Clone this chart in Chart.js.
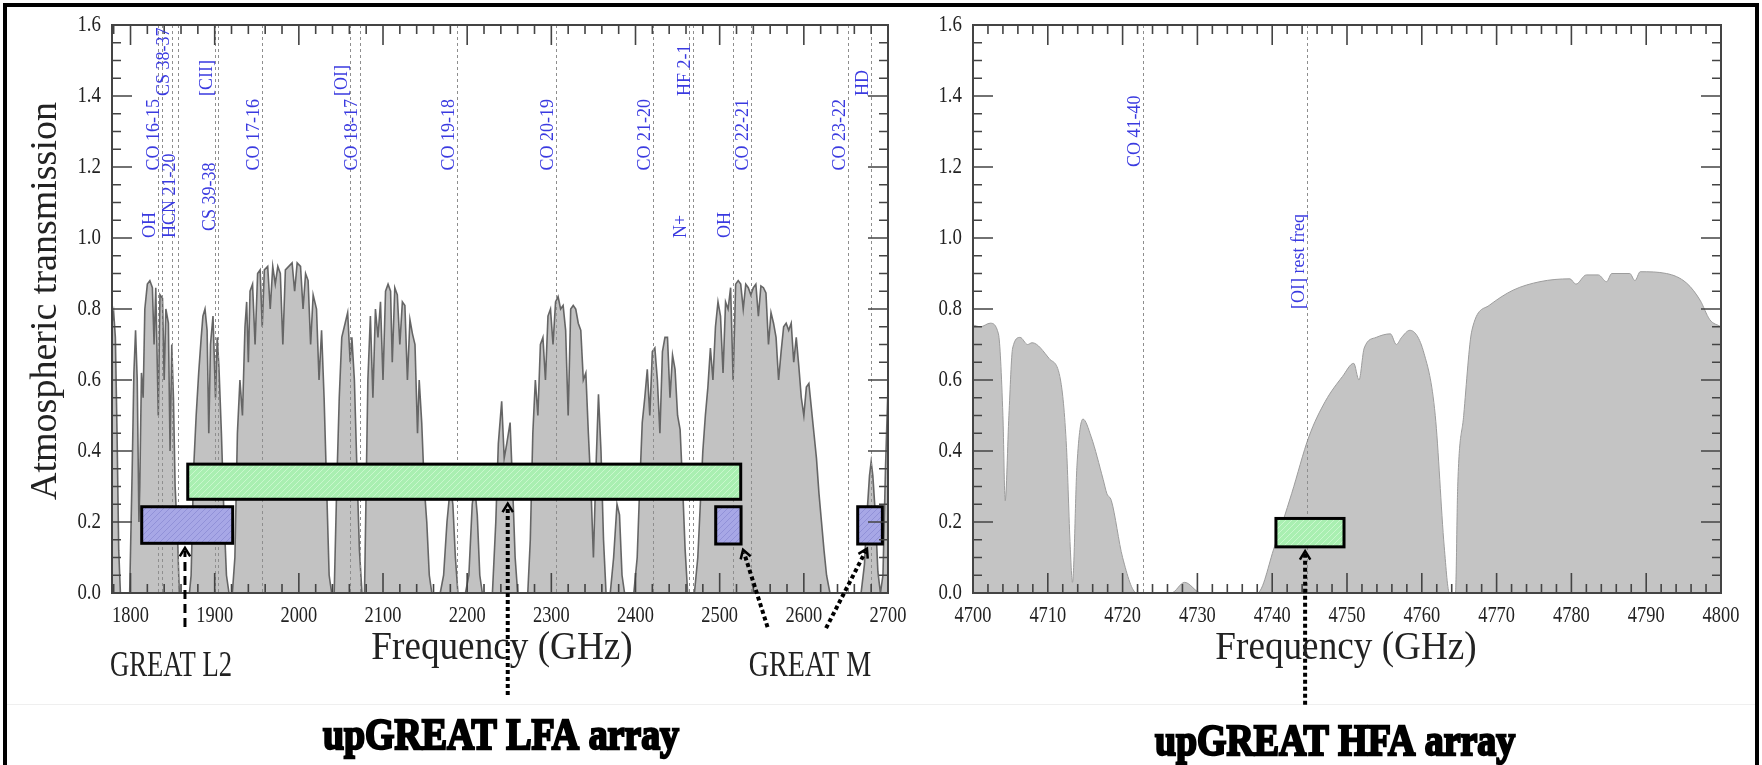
<!DOCTYPE html>
<html>
<head>
<meta charset="utf-8">
<script src="https://cdn.jsdelivr.net/npm/chart.js@4/dist/chart.umd.min.js"></script>
<style>
  html, body { margin: 0; padding: 0; background: #fff; }
  #wrap { position: relative; width: 1762px; height: 765px; overflow: hidden; background: #fff; }
  #frame { position: absolute; left: 3px; top: 3px; width: 1756px; height: 820px; border: 4px solid #000; box-sizing: border-box; }
  #sep { position: absolute; left: 7px; top: 704px; width: 1748px; height: 1px; background: #efefef; }
  canvas { position: absolute; top: 0; }
  #left { left: 0; }
  #right { left: 930px; }
</style>
</head>
<body>
<div id="wrap">
  <div id="sep"></div>
  <canvas id="left" width="930" height="765"></canvas>
  <canvas id="right" width="832" height="765"></canvas>
  <div id="frame"></div>
</div>
<script>
// ---- data ----
// left panel: atmospheric transmission 1.78 - 2.7 THz
const freqL = [
  1778, 1780, 1782, 1784, 1786, 1788, 1799, 1802, 1804, 1806, 1808, 1810, 1811, 1813, 1815, 1817, 1820, 1823,
  1826, 1828, 1830, 1833, 1835, 1838, 1840, 1842, 1845, 1847, 1849, 1851, 1853, 1856, 1858, 1870, 1872, 1875,
  1878, 1881, 1884, 1886, 1888.5, 1891, 1893, 1895, 1898, 1901, 1903, 1905, 1908, 1911, 1914, 1917, 1921, 1924,
  1927, 1930, 1933, 1936, 1938, 1940, 1942, 1945, 1948, 1951, 1954, 1956.5, 1959, 1963, 1966, 1969, 1972, 1975,
  1978, 1981, 1984, 1988, 1992, 1995, 1998, 2002, 2005, 2008, 2011, 2014, 2017, 2021, 2024, 2027, 2030, 2033,
  2036, 2039, 2042, 2045, 2048, 2051, 2055, 2058, 2061, 2063, 2066, 2069, 2072, 2075, 2078, 2080, 2082, 2085,
  2088, 2091, 2094, 2097, 2100, 2103, 2106, 2109, 2111, 2114, 2117, 2120, 2123, 2126, 2129, 2132, 2135, 2138,
  2141, 2143, 2146, 2149, 2152, 2155, 2158, 2168, 2172, 2176, 2180, 2183, 2186, 2189, 2198, 2202, 2206, 2209,
  2212, 2215, 2218, 2230, 2234, 2237, 2241, 2244, 2247, 2251, 2254, 2257, 2260, 2272, 2275, 2278, 2281, 2284,
  2287, 2290, 2293, 2296, 2299, 2302, 2305, 2308, 2311, 2314, 2317, 2320, 2323, 2326, 2329, 2332, 2335, 2338,
  2341, 2344, 2347, 2350, 2353, 2356, 2359, 2362, 2365, 2370, 2374, 2378, 2381, 2384, 2387, 2398, 2402, 2405,
  2408, 2411, 2414, 2417, 2420, 2423, 2426, 2429, 2432, 2435, 2438, 2441, 2444, 2447, 2450, 2453, 2456, 2459,
  2462, 2470, 2474, 2477, 2480, 2483, 2486, 2489, 2492, 2495, 2498, 2501, 2504, 2507, 2510, 2513, 2516, 2519,
  2522, 2525, 2528, 2531, 2534, 2537, 2540, 2543, 2546, 2549, 2552, 2555, 2558, 2561, 2564, 2567, 2570, 2573,
  2576, 2579, 2582, 2585, 2588, 2591, 2594, 2597, 2600, 2603, 2606, 2609, 2612, 2615, 2618, 2621, 2624, 2627,
  2631, 2668, 2672, 2675, 2678, 2680, 2682, 2685, 2688, 2691, 2694, 2697, 2700
];
const transL = [
  0.76, 0.79, 0.72, 0.45, 0.12, 0, 0, 0.35, 0.62, 0.74, 0.6, 0.2, 0.3, 0.62, 0.55, 0.8, 0.87, 0.88,
  0.86, 0.7, 0.86, 0.5, 0.84, 0.83, 0.6, 0.8, 0.76, 0.4, 0.7, 0.55, 0.3, 0.15, 0, 0, 0.05, 0.35,
  0.5, 0.62, 0.72, 0.78, 0.8, 0.74, 0.45, 0.7, 0.78, 0.55, 0.72, 0.64, 0.45, 0.22, 0.05, 0, 0, 0.1,
  0.45, 0.6, 0.5, 0.75, 0.82, 0.65, 0.85, 0.87, 0.7, 0.9, 0.91, 0.75, 0.91, 0.92, 0.8, 0.92, 0.87, 0.92,
  0.9, 0.7, 0.91, 0.92, 0.93, 0.85, 0.93, 0.92, 0.8, 0.9, 0.88, 0.7, 0.84, 0.8, 0.6, 0.74, 0.55, 0.3,
  0.05, 0, 0, 0.3, 0.55, 0.72, 0.76, 0.79, 0.65, 0.72, 0.6, 0.35, 0.12, 0, 0, 0.3, 0.6, 0.78,
  0.55, 0.8, 0.72, 0.82, 0.6, 0.85, 0.87, 0.85, 0.65, 0.86, 0.84, 0.7, 0.82, 0.81, 0.6, 0.77, 0.73, 0.7,
  0.45, 0.6, 0.48, 0.3, 0.2, 0.05, 0, 0, 0.05, 0.2, 0.3, 0.25, 0.1, 0, 0, 0.05, 0.25, 0.3,
  0.22, 0.05, 0, 0, 0.2, 0.42, 0.54, 0.38, 0.42, 0.48, 0.3, 0.1, 0, 0, 0.15, 0.45, 0.6, 0.5,
  0.7, 0.72, 0.6, 0.78, 0.8, 0.7, 0.82, 0.835, 0.8, 0.81, 0.74, 0.5, 0.8, 0.81, 0.8, 0.76, 0.74, 0.6,
  0.62, 0.45, 0.3, 0.1, 0.35, 0.56, 0.4, 0.15, 0, 0, 0.1, 0.25, 0.22, 0.05, 0, 0, 0.1, 0.3,
  0.48, 0.55, 0.63, 0.5, 0.68, 0.69, 0.6, 0.45, 0.68, 0.72, 0.72, 0.55, 0.67, 0.63, 0.5, 0.46, 0.3, 0.12,
  0, 0, 0.1, 0.25, 0.4, 0.5, 0.58, 0.69, 0.6, 0.75, 0.82, 0.78, 0.62, 0.82, 0.8, 0.86, 0.6, 0.87,
  0.88, 0.87, 0.8, 0.87, 0.86, 0.84, 0.86, 0.87, 0.78, 0.865, 0.86, 0.845, 0.7, 0.79, 0.76, 0.72, 0.6, 0.68,
  0.75, 0.76, 0.74, 0.76, 0.65, 0.72, 0.64, 0.55, 0.5, 0.58, 0.59, 0.52, 0.45, 0.38, 0.28, 0.2, 0.12, 0.05,
  0, 0, 0.08, 0.22, 0.33, 0.37, 0.33, 0.22, 0.06, 0, 0.05, 0.35, 0.58
];

// right panel: 4.70 - 4.80 THz
const freqR = [
  4700, 4701, 4702.3, 4703.4, 4704, 4704.3, 4704.8, 4705.3, 4706.3, 4707.3, 4707.9, 4710.2, 4711.7, 4712.5,
  4713, 4713.3, 4713.9, 4714.7, 4715.8, 4717.4, 4717.9, 4718.5, 4720, 4721.9, 4726.5, 4728.3, 4730.5, 4738,
  4740.3, 4742.6, 4744.9, 4747.1, 4749.4, 4750.9, 4751.6, 4752.3, 4753.9, 4755.8, 4756.6, 4757.3, 4758.4,
  4760.3, 4761.8, 4763, 4763.7, 4764.5, 4764.8, 4765.6, 4766.7, 4769, 4772.2, 4775.8, 4779.8, 4780.6, 4782,
  4783.6, 4784.7, 4785.4, 4787.8, 4788.5, 4789.2, 4792.7, 4795.4, 4797.2, 4798.5, 4800
];
const transR = [
  0.755, 0.75, 0.76, 0.73, 0.5, 0.26, 0.5, 0.69, 0.72, 0.70, 0.705, 0.66, 0.6, 0.41,
  0.13, 0.03, 0.36, 0.49, 0.44, 0.32, 0.28, 0.26, 0.1, 0, 0, 0.03, 0, 0,
  0.13, 0.28, 0.44, 0.54, 0.61, 0.647, 0.6, 0.69, 0.72, 0.73, 0.7, 0.72, 0.74,
  0.675, 0.5, 0.13, 0, 0, 0.3, 0.5, 0.74, 0.81, 0.853, 0.877, 0.885, 0.87, 0.896,
  0.896, 0.877, 0.9, 0.9, 0.88, 0.905, 0.9, 0.873, 0.825, 0.77, 0.75
];

const xTicksL = [1800, 1900, 2000, 2100, 2200, 2300, 2400, 2500, 2600, 2700];
const xTicksR = [4700, 4710, 4720, 4730, 4740, 4750, 4760, 4770, 4780, 4790, 4800];
const yTicks = [0, 0.2, 0.4, 0.6, 0.8, 1.0, 1.2, 1.4, 1.6];

// marked lines
const lineFreqL = [1832.5, 1838, 1849.5, 1856.4, 1900.7, 1903.5, 1956.6, 2061, 2072.7, 2188.5, 2305, 2420.5, 2463.5, 2468, 2515.9, 2537, 2653, 2679.7];
const lineNameL = ['OH', 'CO 16-15', 'CS 38-37', 'HCN 21-20', '[CII]', 'CS 39-38', 'CO 17-16', '[OI]', 'CO 18-17', 'CO 19-18', 'CO 20-19', 'CO 21-20', 'N+', 'HF 2-1', 'OH', 'CO 22-21', 'CO 23-22', 'HD'];
const lineLabelAtL = [1.0, 1.19, 1.4, 1.0, 1.4, 1.02, 1.19, 1.4, 1.19, 1.19, 1.19, 1.19, 1.0, 1.4, 1.0, 1.19, 1.19, 1.4];
const lineFreqR = [4722.7, 4744.7];
const lineNameR = ['CO 41-40', '[OI] rest freq'];
const lineLabelAtR = [1.2, 0.8];

// receiver bands (GHz / transmission)
const bandNameL = ['GREAT L2', 'upGREAT LFA', 'GREAT M', 'GREAT M'];
const bandLoL = [1813.3, 1868, 2495.3, 2664];
const bandHiL = [1921.4, 2525, 2525.4, 2693.3];
const bandBotL = [0.14, 0.264, 0.138, 0.138];
const bandTopL = [0.243, 0.363, 0.243, 0.243];
const bandLoR = [4740.5];
const bandHiR = [4749.6];
const bandBotR = [0.13];
const bandTopR = [0.21];

// pointer arrows (start -> tip, in axis units)
const arrowX0L = [1864.7, 2248.2, 2556.9, 2626.4];
const arrowY0L = [-0.096, -0.287, -0.096, -0.099];
const arrowX1L = [1864.7, 2248.2, 2527.8, 2675];
const arrowY1L = [0.127, 0.252, 0.122, 0.125];
const arrowX0R = [4744.4];
const arrowY0R = [-0.315];
const arrowX1R = [4744.4];
const arrowY1R = [0.118];

const SERIF = '"Liberation Serif", "Times New Roman", serif';

function hatch(base, stripe) {
  const c = document.createElement('canvas');
  c.width = 6; c.height = 6;
  const g = c.getContext('2d');
  g.fillStyle = base;
  g.fillRect(0, 0, 6, 6);
  g.strokeStyle = stripe;
  g.lineWidth = 1;
  g.beginPath();
  g.moveTo(0, 6); g.lineTo(6, 0);
  g.moveTo(-1, 1); g.lineTo(1, -1);
  g.moveTo(5, 7); g.lineTo(7, 5);
  g.stroke();
  return g.createPattern(c, 'repeat');
}

function squeezeText(ctx, s, x, y, font, sx, align, base, color) {
  ctx.save();
  ctx.font = font;
  ctx.fillStyle = color;
  ctx.textAlign = align;
  ctx.textBaseline = base;
  ctx.translate(x, y);
  ctx.scale(sx, 1);
  ctx.fillText(s, 0, 0);
  ctx.restore();
}

function heavyText(ctx, s, x, y, sx) {
  ctx.save();
  ctx.font = 'bold 44px ' + SERIF;
  ctx.textAlign = 'center';
  ctx.textBaseline = 'middle';
  ctx.translate(x, y);
  ctx.scale(sx, 1);
  ctx.lineWidth = 2.4;
  ctx.strokeStyle = '#000';
  ctx.fillStyle = '#000';
  ctx.strokeText(s, 0, 0);
  ctx.fillText(s, 0, 0);
  ctx.restore();
}

function arrow(ctx, x0, y0, x1, y1, dash, lw) {
  const ang = Math.atan2(y1 - y0, x1 - x0);
  ctx.save();
  ctx.strokeStyle = '#000';
  ctx.lineWidth = lw;
  ctx.setLineDash(dash);
  ctx.beginPath();
  ctx.moveTo(x0, y0);
  ctx.lineTo(x1 - Math.cos(ang) * 3, y1 - Math.sin(ang) * 3);
  ctx.stroke();
  ctx.setLineDash([]);
  ctx.lineWidth = 2.5;
  const h = 10, w = 0.55;
  ctx.beginPath();
  ctx.moveTo(x1 - h * Math.cos(ang - w), y1 - h * Math.sin(ang - w));
  ctx.lineTo(x1, y1);
  ctx.lineTo(x1 - h * Math.cos(ang + w), y1 - h * Math.sin(ang + w));
  ctx.stroke();
  ctx.restore();
}

// frame, inward ticks on all four sides, tick labels
function drawAxes(chart, minorX, majorX, yLabelRight) {
  const { ctx, chartArea: a, scales: { x, y } } = chart;
  ctx.save();
  ctx.strokeStyle = '#444';
  ctx.lineWidth = 1.6;
  ctx.beginPath();
  const start = Math.ceil(x.min / minorX) * minorX;
  for (let v = start; v <= x.max + 1e-6; v += minorX) {
    const px = x.getPixelForValue(v);
    const r = v / majorX;
    const len = Math.abs(r - Math.round(r)) < 1e-6 ? 20 : 9;
    ctx.moveTo(px, a.bottom); ctx.lineTo(px, a.bottom - len);
    ctx.moveTo(px, a.top); ctx.lineTo(px, a.top + len);
  }
  for (let k = 0; k <= 32; k++) {
    const v = k * 0.05;
    const py = y.getPixelForValue(v);
    const len = k % 4 === 0 ? 20 : 9;
    ctx.moveTo(a.left, py); ctx.lineTo(a.left + len, py);
    ctx.moveTo(a.right, py); ctx.lineTo(a.right - len, py);
  }
  ctx.stroke();
  ctx.lineWidth = 2;
  ctx.strokeRect(a.left, a.top, a.right - a.left, a.bottom - a.top);
  ctx.restore();

  const tickFont = '23px ' + SERIF;
  x.ticks.forEach(t => {
    squeezeText(ctx, String(t.value), x.getPixelForValue(t.value), a.bottom + 11, tickFont, 0.8, 'center', 'top', '#222');
  });
  y.ticks.forEach(t => {
    squeezeText(ctx, t.value.toFixed(1), yLabelRight, y.getPixelForValue(t.value), tickFont, 0.82, 'right', 'middle', '#222');
  });
}

function drawLines(chart, freqs) {
  const { ctx, chartArea: a, scales: { x } } = chart;
  ctx.save();
  ctx.strokeStyle = '#8e8e8e';
  ctx.lineWidth = 1;
  ctx.setLineDash([3, 3]);
  ctx.beginPath();
  freqs.forEach(f => {
    const px = Math.round(x.getPixelForValue(f)) + 0.5;
    ctx.moveTo(px, a.top); ctx.lineTo(px, a.bottom);
  });
  ctx.stroke();
  ctx.restore();
}

function drawLineNames(chart, freqs, names, at) {
  const { ctx, scales: { x, y } } = chart;
  ctx.save();
  ctx.font = '18px ' + SERIF;
  ctx.fillStyle = '#3a3ae0';
  ctx.textAlign = 'left';
  ctx.textBaseline = 'alphabetic';
  freqs.forEach((f, i) => {
    ctx.save();
    ctx.translate(x.getPixelForValue(f) - 3, y.getPixelForValue(at[i]));
    ctx.rotate(-Math.PI / 2);
    ctx.fillText(names[i], 0, 0);
    ctx.restore();
  });
  ctx.restore();
}

function drawBands(chart, lo, hi, bot, top, fills) {
  const { ctx, scales: { x, y } } = chart;
  lo.forEach((v, i) => {
    const x0 = x.getPixelForValue(v), x1 = x.getPixelForValue(hi[i]);
    const y0 = y.getPixelForValue(top[i]), y1 = y.getPixelForValue(bot[i]);
    ctx.save();
    ctx.fillStyle = fills[i];
    ctx.fillRect(x0, y0, x1 - x0, y1 - y0);
    ctx.strokeStyle = '#000';
    ctx.lineWidth = 3;
    ctx.strokeRect(x0, y0, x1 - x0, y1 - y0);
    ctx.restore();
  });
}

const leftDeco = {
  id: 'leftDeco',
  afterDatasetsDraw(chart) {
    const { ctx, scales: { x, y } } = chart;
    const green = hatch('#a9efb1', '#c9f7cd');
    const blue = hatch('#a7a7e6', '#9191d8');
    drawLines(chart, lineFreqL);
    drawBands(chart, bandLoL, bandHiL, bandBotL, bandTopL, [blue, green, blue, blue]);
    drawAxes(chart, 20, 100, 101);
    drawLineNames(chart, lineFreqL, lineNameL, lineLabelAtL);
    arrowX0L.forEach((v, i) => {
      arrow(ctx, x.getPixelForValue(v), y.getPixelForValue(arrowY0L[i]),
        x.getPixelForValue(arrowX1L[i]), y.getPixelForValue(arrowY1L[i]),
        i === 0 ? [9, 5] : [4, 3], i === 0 ? 3 : 4);
    });
    // y title
    ctx.save();
    ctx.translate(46, 301);
    ctx.rotate(-Math.PI / 2);
    ctx.font = '38px ' + SERIF;
    ctx.fillStyle = '#222';
    ctx.textAlign = 'center';
    ctx.textBaseline = 'middle';
    ctx.fillText('Atmospheric transmission', 0, 0);
    ctx.restore();
    squeezeText(ctx, 'Frequency (GHz)', 502, 648, '40px ' + SERIF, 0.93, 'center', 'middle', '#222');
    squeezeText(ctx, 'GREAT L2', 171, 667, '36px ' + SERIF, 0.74, 'center', 'middle', '#222');
    squeezeText(ctx, 'GREAT M', 810, 667, '36px ' + SERIF, 0.78, 'center', 'middle', '#222');
    heavyText(ctx, 'upGREAT LFA array', 501, 738, 0.86);
  }
};

const rightDeco = {
  id: 'rightDeco',
  afterDatasetsDraw(chart) {
    const { ctx, scales: { x, y } } = chart;
    const green = hatch('#a9efb1', '#c9f7cd');
    drawLines(chart, lineFreqR);
    drawBands(chart, bandLoR, bandHiR, bandBotR, bandTopR, [green]);
    drawAxes(chart, 2, 10, 32);
    drawLineNames(chart, lineFreqR, lineNameR, lineLabelAtR);
    arrowX0R.forEach((v, i) => {
      arrow(ctx, x.getPixelForValue(v), y.getPixelForValue(arrowY0R[i]),
        x.getPixelForValue(arrowX1R[i]), y.getPixelForValue(arrowY1R[i]), [4, 3], 4);
    });
    squeezeText(ctx, 'Frequency (GHz)', 416, 648, '40px ' + SERIF, 0.93, 'center', 'middle', '#222');
    heavyText(ctx, 'upGREAT HFA array', 405, 744, 0.86);
  }
};

function makeChart(id, xs, ys, xmin, xmax, xTicks, yWidth, padRight, style, deco) {
  return new Chart(document.getElementById(id), {
    type: 'line',
    data: {
      datasets: [{
        data: xs.map((v, i) => ({ x: v, y: ys[i] })),
        fill: 'origin',
        backgroundColor: style.fill,
        borderColor: style.line,
        borderWidth: style.width,
        pointRadius: 0,
        tension: style.smooth ? 0.4 : 0,
        cubicInterpolationMode: style.smooth ? 'monotone' : 'default'
      }]
    },
    options: {
      responsive: false,
      animation: false,
      events: [],
      layout: { padding: { left: 0, right: padRight, top: 25, bottom: 0 } },
      plugins: { legend: { display: false }, tooltip: { enabled: false } },
      scales: {
        x: {
          type: 'linear', min: xmin, max: xmax,
          grid: { display: false }, border: { display: false },
          ticks: { display: false },
          afterBuildTicks: s => { s.ticks = xTicks.map(v => ({ value: v })); },
          afterFit: s => { s.height = 172; }
        },
        y: {
          type: 'linear', min: 0, max: 1.6,
          grid: { display: false }, border: { display: false },
          ticks: { display: false },
          afterBuildTicks: s => { s.ticks = yTicks.map(v => ({ value: v })); },
          afterFit: s => { s.width = yWidth; }
        }
      }
    },
    plugins: [deco]
  });
}

makeChart('left', freqL, transL, 1778, 2700, xTicksL, 112, 42,
  { fill: '#c2c2c2', line: 'rgba(95,95,95,0.95)', width: 1.6, smooth: false }, leftDeco);
makeChart('right', freqR, transR, 4700, 4800, xTicksR, 43, 41,
  { fill: '#c4c4c4', line: '#9c9c9c', width: 1, smooth: true }, rightDeco);
</script>
</body>
</html>
